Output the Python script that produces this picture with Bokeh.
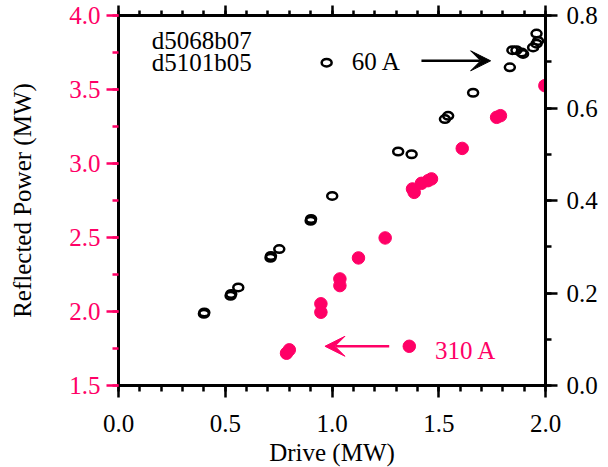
from bokeh.plotting import figure
from bokeh.models import (Range1d, LinearAxis, SingleIntervalTicker, NumeralTickFormatter,
                          CustomJSTickFormatter, Label, Arrow, VeeHead, ColumnDataSource)
from bokeh.embed import file_html
from bokeh.resources import INLINE

# 60 A data (right axis, black open circles)
drive_60 = [0.400, 0.402, 0.525, 0.528, 0.561, 0.712, 0.714, 0.753, 0.900, 0.902, 0.975, 1.001,
            1.310, 1.373, 1.529, 1.544, 1.661, 1.833, 1.845, 1.864, 1.888, 1.895, 1.942, 1.958, 1.965, 1.958]
refl_60 = [0.155, 0.158, 0.194, 0.198, 0.212, 0.276, 0.280, 0.295, 0.356, 0.360, 0.698, 0.410,
           0.506, 0.500, 0.576, 0.583, 0.633, 0.688, 0.725, 0.725, 0.720, 0.717, 0.731, 0.739, 0.745, 0.761]

# 310 A data (left axis, pink filled circles)
drive_310 = [0.787, 0.800, 0.948, 0.948, 1.037, 1.037, 1.124, 1.249, 1.362, 1.377, 1.385,
             1.419, 1.450, 1.466, 1.610, 1.771, 1.789, 1.997]
refl_310 = [1.718, 1.741, 2.052, 1.995, 2.220, 2.175, 2.362, 2.497, 1.765, 2.828, 2.805,
            2.866, 2.884, 2.896, 3.102, 3.312, 3.323, 3.526]

shot_labels = ["d5068b07", "d5101b05"]

PINK = "#ff0066"
FONT = "Liberation Serif"
FS = "25px"

p = figure(frame_width=427, frame_height=370, output_backend="svg", toolbar_location=None,
           x_range=Range1d(0, 2.0), y_range=Range1d(1.5, 4.0),
           min_border_left=118, min_border_right=50, min_border_top=15, min_border_bottom=78,
           x_axis_location=None, y_axis_location=None)
p.extra_y_ranges = {"right": Range1d(0, 0.8)}
p.xgrid.visible = False
p.ygrid.visible = False
p.outline_line_color = None
p.background_fill_color = "white"
p.border_fill_color = "white"

def style(ax, color="black", tickcolor="black"):
    ax.axis_line_width = 3
    ax.axis_line_color = "black"
    ax.major_tick_line_width = 2.5
    ax.minor_tick_line_width = 2.5
    ax.major_tick_line_color = tickcolor
    ax.minor_tick_line_color = tickcolor
    ax.major_tick_out = 12
    ax.major_tick_in = 0
    ax.minor_tick_out = 6
    ax.minor_tick_in = 0
    ax.major_label_text_font = FONT
    ax.major_label_text_font_size = FS
    ax.major_label_text_color = color
    ax.axis_label_text_font = FONT
    ax.axis_label_text_font_size = FS
    ax.axis_label_text_font_style = "normal"
    ax.axis_label_text_color = "black"
    ax.axis_label_standoff = 0
    ax.formatter = NumeralTickFormatter(format="0.0")

xb = LinearAxis(axis_label="Drive (MW)", ticker=SingleIntervalTicker(interval=0.5, num_minor_ticks=5))
style(xb)
xb.major_label_standoff = 17
xb.axis_label_standoff = 4
p.add_layout(xb, "below")

xt = LinearAxis(ticker=SingleIntervalTicker(interval=0.5, num_minor_ticks=5))
style(xt)
xt.major_tick_out = 10
xt.minor_tick_out = 5
xt.formatter = CustomJSTickFormatter(code="return ''")
xt.major_label_standoff = 0
p.add_layout(xt, "above")

yl = LinearAxis(axis_label="Reflected Power (MW)", ticker=SingleIntervalTicker(interval=0.5, num_minor_ticks=2))
style(yl, color=PINK, tickcolor=PINK)
yl.major_label_standoff = 6
yl.axis_label_standoff = 30
p.add_layout(yl, "left")

yr = LinearAxis(y_range_name="right", ticker=SingleIntervalTicker(interval=0.2, num_minor_ticks=2))
style(yr)
yr.major_label_standoff = 9
p.add_layout(yr, "right")

src60 = ColumnDataSource(dict(x=drive_60, y=refl_60))
p.ellipse(x="x", y="y", width=10, height=7.5, width_units="screen", height_units="screen",
          fill_color=None, line_color="black", line_width=2.5, source=src60, y_range_name="right")

src310 = ColumnDataSource(dict(x=drive_310, y=refl_310))
p.scatter(x="x", y="y", size=12.5, marker="circle", fill_color=PINK, line_color=PINK,
          source=src310)

# annotations
p.add_layout(Label(x=0.156, y=3.83, text=shot_labels[0], text_font=FONT, text_font_size=FS,
                   text_baseline="middle", text_color="black"))
p.add_layout(Label(x=0.156, y=3.68, text=shot_labels[1], text_font=FONT, text_font_size=FS,
                   text_baseline="middle", text_color="black"))
p.add_layout(Label(x=1.093, y=0.700, y_range_name="right", text="60 A", text_font=FONT,
                   text_font_size=FS, text_baseline="middle", text_color="black"))
p.add_layout(Label(x=1.482, y=1.736, text="310 A", text_font=FONT, text_font_size=FS,
                   text_baseline="middle", text_color=PINK))

p.add_layout(Arrow(x_start=1.419, y_start=0.702, x_end=1.743, y_end=0.702, y_range_name="right",
                   line_color="black", line_width=2.5,
                   end=VeeHead(size=20, fill_color="black", line_color="black")))
p.add_layout(Arrow(x_start=1.268, y_start=1.765, x_end=0.967, y_end=1.765,
                   line_color=PINK, line_width=2.5,
                   end=VeeHead(size=20, fill_color=PINK, line_color=PINK)))

open("out.html", "w").write(file_html(p, INLINE))
